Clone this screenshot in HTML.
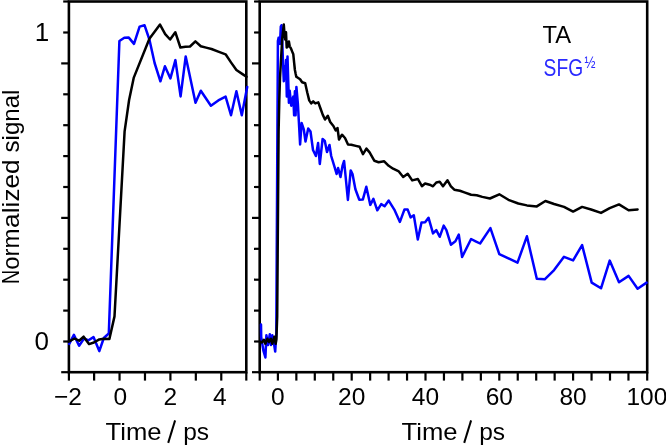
<!DOCTYPE html>
<html><head><meta charset="utf-8"><style>
html,body{margin:0;padding:0;background:#fff;}
body{width:666px;height:446px;overflow:hidden;font-family:"Liberation Sans",sans-serif;}
svg{display:block;will-change:transform;}
</style></head><body>
<svg width="666" height="446" viewBox="0 0 666 446">
<g stroke="#000" stroke-width="2.20" stroke-linecap="butt"><rect x="68.90" y="1.50" width="177.40" height="370.70" fill="none" stroke="#000" stroke-width="2.60"/><line x1="61.20" y1="372.20" x2="68.90" y2="372.20"/><line x1="63.20" y1="341.50" x2="68.90" y2="341.50"/><line x1="63.20" y1="310.60" x2="68.90" y2="310.60"/><line x1="63.20" y1="279.70" x2="68.90" y2="279.70"/><line x1="63.20" y1="248.80" x2="68.90" y2="248.80"/><line x1="61.20" y1="217.90" x2="68.90" y2="217.90"/><line x1="63.20" y1="187.00" x2="68.90" y2="187.00"/><line x1="63.20" y1="156.10" x2="68.90" y2="156.10"/><line x1="63.20" y1="125.20" x2="68.90" y2="125.20"/><line x1="63.20" y1="94.30" x2="68.90" y2="94.30"/><line x1="61.20" y1="63.40" x2="68.90" y2="63.40"/><line x1="63.20" y1="32.50" x2="68.90" y2="32.50"/><line x1="63.20" y1="1.50" x2="68.90" y2="1.50"/><rect x="259.70" y="1.50" width="387.50" height="370.70" fill="none" stroke="#000" stroke-width="2.60"/><line x1="252.00" y1="372.20" x2="259.70" y2="372.20"/><line x1="254.00" y1="341.50" x2="259.70" y2="341.50"/><line x1="254.00" y1="310.60" x2="259.70" y2="310.60"/><line x1="254.00" y1="279.70" x2="259.70" y2="279.70"/><line x1="254.00" y1="248.80" x2="259.70" y2="248.80"/><line x1="252.00" y1="217.90" x2="259.70" y2="217.90"/><line x1="254.00" y1="187.00" x2="259.70" y2="187.00"/><line x1="254.00" y1="156.10" x2="259.70" y2="156.10"/><line x1="254.00" y1="125.20" x2="259.70" y2="125.20"/><line x1="254.00" y1="94.30" x2="259.70" y2="94.30"/><line x1="252.00" y1="63.40" x2="259.70" y2="63.40"/><line x1="254.00" y1="32.50" x2="259.70" y2="32.50"/><line x1="254.00" y1="1.50" x2="259.70" y2="1.50"/><line x1="68.90" y1="372.20" x2="68.90" y2="380.60"/><line x1="94.12" y1="372.20" x2="94.12" y2="380.60"/><line x1="119.55" y1="372.20" x2="119.55" y2="380.60"/><line x1="144.98" y1="372.20" x2="144.98" y2="380.60"/><line x1="170.41" y1="372.20" x2="170.41" y2="380.60"/><line x1="195.84" y1="372.20" x2="195.84" y2="380.60"/><line x1="221.27" y1="372.20" x2="221.27" y2="380.60"/><line x1="246.30" y1="372.20" x2="246.30" y2="380.60"/><line x1="259.70" y1="372.20" x2="259.70" y2="380.60"/><line x1="277.90" y1="372.20" x2="277.90" y2="380.60"/><line x1="296.35" y1="372.20" x2="296.35" y2="380.60"/><line x1="314.80" y1="372.20" x2="314.80" y2="380.60"/><line x1="333.25" y1="372.20" x2="333.25" y2="380.60"/><line x1="351.70" y1="372.20" x2="351.70" y2="380.60"/><line x1="370.15" y1="372.20" x2="370.15" y2="380.60"/><line x1="388.60" y1="372.20" x2="388.60" y2="380.60"/><line x1="407.05" y1="372.20" x2="407.05" y2="380.60"/><line x1="425.50" y1="372.20" x2="425.50" y2="380.60"/><line x1="443.95" y1="372.20" x2="443.95" y2="380.60"/><line x1="462.40" y1="372.20" x2="462.40" y2="380.60"/><line x1="480.85" y1="372.20" x2="480.85" y2="380.60"/><line x1="499.30" y1="372.20" x2="499.30" y2="380.60"/><line x1="517.75" y1="372.20" x2="517.75" y2="380.60"/><line x1="536.20" y1="372.20" x2="536.20" y2="380.60"/><line x1="554.65" y1="372.20" x2="554.65" y2="380.60"/><line x1="573.10" y1="372.20" x2="573.10" y2="380.60"/><line x1="591.55" y1="372.20" x2="591.55" y2="380.60"/><line x1="610.00" y1="372.20" x2="610.00" y2="380.60"/><line x1="628.45" y1="372.20" x2="628.45" y2="380.60"/><line x1="647.20" y1="372.20" x2="647.20" y2="380.60"/></g>
<g fill="none" stroke-linejoin="round" stroke-linecap="round" stroke-width="2.50">
<polyline stroke="#0000ff" points="69.2,343.9 73.9,334.9 79.1,345.7 84.0,338.5 88.5,340.3 93.5,337.1 99.3,351.1 103.8,338.0 108.8,333.5 119.4,41.0 124.3,37.8 128.8,37.6 134.0,43.9 139.6,26.6 144.5,25.2 149.4,39.5 154.6,63.0 160.4,81.3 164.9,66.3 170.4,78.4 175.4,60.1 180.6,96.4 185.7,56.5 195.5,102.7 200.8,90.7 210.9,105.7 218.3,100.4 225.6,96.6 231.0,115.2 236.4,91.2 241.8,115.2 247.2,86.9"/><polyline stroke="#000" points="68.7,341.6 74.6,338.5 79.1,340.7 83.6,336.7 89.0,344.1 93.9,342.5 99.3,339.4 103.8,338.7 109.4,339.0 114.5,316.4 124.6,131.4 129.1,100.0 133.8,77.6 149.4,38.8 160.0,24.6 165.2,34.2 170.1,39.5 175.3,32.2 180.4,47.5 185.4,46.8 190.0,46.5 195.4,41.4 200.8,46.3 206.1,47.6 211.5,49.0 218.3,51.6 225.6,54.3 231.0,62.4 236.4,70.0 242.5,74.1 246.5,76.8"/>
<polyline stroke="#0000ff" points="261.0,324.5 261.2,337.0 262.3,344.0 263.4,350.6 265.4,357.5 266.4,335.3 268.0,345.0 269.8,334.3 271.0,345.0 272.3,335.3 273.5,340.0 275.2,351.6 276.3,333.5 277.9,41.0 278.6,37.8 279.2,37.6 280.0,43.9 280.8,26.6 281.5,25.2 282.2,39.5 283.0,63.0 283.8,81.3 284.5,66.3 285.3,78.4 286.0,60.1 286.8,96.4 287.5,56.5 288.9,102.7 289.7,90.7 291.2,105.7 292.2,100.4 293.3,96.6 294.1,115.2 294.9,91.2 295.6,115.2 296.4,86.9 297.9,104.0 300.1,144.5 301.6,123.0 303.8,129.5 305.5,141.5 308.2,128.5 310.5,131.5 313.0,150.0 315.9,156.0 318.1,143.0 319.8,164.0 322.6,139.0 324.8,141.0 327.0,152.0 329.5,145.0 331.2,156.0 334.6,167.2 336.6,174.0 338.1,168.0 340.5,177.0 342.5,166.0 344.1,161.0 347.9,200.0 350.7,170.4 352.5,174.0 355.4,189.2 359.3,199.8 362.9,199.4 366.3,186.8 370.3,204.9 373.4,198.9 377.3,210.3 381.2,204.1 384.6,206.2 388.7,200.6 394.3,209.6 399.9,221.9 404.4,209.6 407.7,209.6 410.6,217.4 413.8,215.2 417.8,239.5 421.5,222.5 425.1,222.2 428.5,217.7 433.0,233.4 436.3,230.1 439.7,236.8 443.7,225.6 446.4,230.1 450.9,244.7 455.4,241.3 458.8,234.6 462.1,257.0 471.1,239.0 475.6,241.3 480.1,243.5 490.4,228.1 499.3,254.1 517.5,262.7 526.9,236.3 536.8,278.8 544.7,279.3 554.1,270.1 564.0,256.8 573.1,260.4 582.1,245.1 591.7,282.6 601.0,288.3 609.7,260.6 619.0,282.3 628.6,275.9 637.6,288.8 646.6,282.6"/><polyline stroke="#000" points="260.6,341.7 261.9,342.5 263.9,339.7 265.4,343.7 267.4,338.7 269.0,342.0 270.8,338.7 272.3,343.7 274.3,336.8 275.7,343.7 276.4,339.0 277.2,316.4 278.6,131.4 279.3,100.0 280.0,77.6 282.2,38.8 283.8,24.6 284.5,34.2 285.2,39.5 286.0,32.2 286.7,47.5 287.5,46.8 288.1,46.5 288.9,41.4 289.7,46.3 290.5,47.6 291.2,49.0 292.2,51.6 293.3,54.3 294.1,62.4 294.9,70.0 295.7,74.1 296.3,76.8 297.1,77.2 300.1,79.2 302.1,82.2 305.2,83.2 307.2,92.3 309.2,100.4 311.2,103.4 313.2,101.4 315.3,103.4 318.3,102.4 320.5,108.5 322.7,114.6 325.0,119.5 327.8,115.7 330.2,122.0 333.4,126.0 335.7,130.5 337.5,128.0 339.0,139.5 342.0,134.7 345.0,138.0 348.0,144.5 351.3,144.8 355.8,145.9 359.6,146.8 363.0,154.2 366.4,148.6 369.6,152.4 374.4,160.8 378.6,162.2 384.2,161.3 388.7,165.8 393.1,168.7 398.8,171.4 403.2,177.0 407.7,173.7 412.2,180.4 417.9,179.0 421.9,186.2 425.1,183.5 429.6,184.7 433.0,186.3 436.3,182.5 439.7,181.8 443.0,186.3 447.5,180.3 450.9,186.3 454.3,189.7 459.9,190.8 464.4,192.4 471.1,194.8 476.7,195.3 482.3,196.9 489.9,198.5 499.3,194.3 508.4,199.8 518.3,203.5 526.9,205.4 536.8,206.4 545.4,201.0 554.1,204.0 564.0,206.9 573.1,211.6 582.1,206.9 591.1,209.5 601.0,212.9 609.7,208.2 619.0,204.4 628.6,210.3 637.6,209.5"/>
</g>
<g font-family="Liberation Sans" font-size="24.5" fill="#000"><text x="49.2" y="41.0" text-anchor="end" font-size="26">1</text><text x="49.0" y="350.3" text-anchor="end" font-size="26">0</text><text x="67.9" y="405.2" text-anchor="middle">−2</text><text x="120.4" y="405.2" text-anchor="middle">0</text><text x="170.4" y="405.2" text-anchor="middle">2</text><text x="219.7" y="405.2" text-anchor="middle">4</text><text x="277.9" y="405.2" text-anchor="middle">0</text><text x="351.7" y="405.2" text-anchor="middle">20</text><text x="425.5" y="405.2" text-anchor="middle">40</text><text x="499.3" y="405.2" text-anchor="middle">60</text><text x="573.1" y="405.2" text-anchor="middle">80</text><text x="646.9" y="405.2" text-anchor="middle">100</text><text x="105.6" y="439.8" textLength="56.0" lengthAdjust="spacingAndGlyphs">Time</text><text x="183.2" y="439.8">ps</text><line x1="175.1" y1="420.4" x2="168.2" y2="442.9" stroke="#000" stroke-width="2.0"/><text x="401.6" y="439.8" textLength="56.0" lengthAdjust="spacingAndGlyphs">Time</text><text x="479.2" y="439.8">ps</text><line x1="471.1" y1="420.4" x2="464.2" y2="442.9" stroke="#000" stroke-width="2.0"/><g transform="translate(18.5,0) rotate(-90)"><text x="-283.9" y="0" textLength="14.2" lengthAdjust="spacingAndGlyphs">N</text><text x="-269.8" y="0" textLength="41.3" lengthAdjust="spacingAndGlyphs">orm</text><text x="-227.9" y="0" textLength="68.6" lengthAdjust="spacingAndGlyphs">alized</text><text x="-152.5" y="0" textLength="62.9" lengthAdjust="spacingAndGlyphs">signal</text></g><text x="542.4" y="43.1" textLength="28.6" lengthAdjust="spacingAndGlyphs">TA</text><text x="543.6" y="75.7" fill="#2a2aff" textLength="39.5" lengthAdjust="spacingAndGlyphs">SFG</text><text x="584.6" y="68.3" fill="#2a2aff" font-size="16.5" textLength="11" lengthAdjust="spacingAndGlyphs">½</text></g>
</svg>
</body></html>
